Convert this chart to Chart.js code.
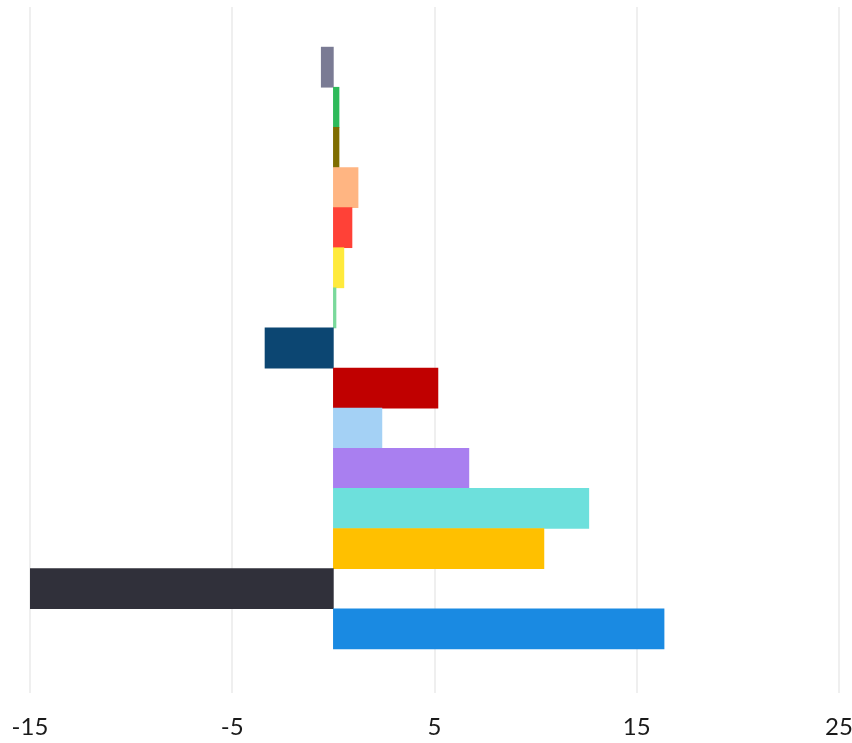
<!DOCTYPE html>
<html>
<head>
<meta charset="utf-8">
<script src="https://cdn.jsdelivr.net/npm/chart.js@4/dist/chart.umd.min.js"></script>
<style>
  html, body { margin: 0; padding: 0; background: #fff; }
  #wrap { width: 852px; height: 743px; }
</style>
</head>
<body>
<div id="wrap"><canvas id="bar-chart"></canvas></div>
<script>
// one bar per category, top to bottom
const categories = ["A", "B", "C", "D", "E", "F", "G", "H", "I", "J", "K", "L", "M", "N", "O"];
const values = [-0.6, 0.28, 0.28, 1.22, 0.92, 0.52, 0.13, -3.38, 5.17, 2.4, 6.7, 12.63, 10.41, -15, 16.35];
const barColors = [
  "#7a7b94", "#2eba5a", "#7f6d00", "#ffb582", "#ff4137", "#ffea3c", "#7ad99b", "#0c4672",
  "#c00000", "#a4d1f5", "#a97ff0", "#6de0dc", "#ffc000", "#30303a", "#1a8ae2"
];
const tickValues = [-15, -5, 5, 15, 25];

// empty slot above and below so the bars sit inside the grid
const labels = ["", ...categories, ""];
const data = [null, ...values, null];
const colors = ["#fff", ...barColors, "#fff"];

new Chart(document.getElementById("bar-chart"), {
  type: "bar",
  data: {
    labels: labels,
    datasets: [
      {
        data: data,
        backgroundColor: colors,
        borderWidth: 0,
        barPercentage: 1,
        categoryPercentage: 1,
      },
    ],
  },
  options: {
    indexAxis: "y",
    responsive: true,
    maintainAspectRatio: false,
    animation: false,
    layout: { padding: { top: 7, left: 30, right: 13, bottom: 0 } },
    plugins: { legend: { display: false }, tooltip: { enabled: false } },
    scales: {
      x: {
        min: -15,
        max: 25,
        afterBuildTicks: (axis) => {
          axis.ticks = tickValues.map((v) => ({ value: v }));
        },
        afterFit: (axis) => {
          axis.paddingLeft = 0;
          axis.paddingRight = 0;
          axis.height = 54;
        },
        border: { display: false },
        grid: { color: "#efefef", lineWidth: 2, tickLength: 4 },
        ticks: {
          padding: 20,
          color: "#1a1a1a",
          font: { family: "Lato", size: 24 },
        },
      },
      y: {
        display: false,
        offset: true,
      },
    },
  },
});
</script>
</body>
</html>
